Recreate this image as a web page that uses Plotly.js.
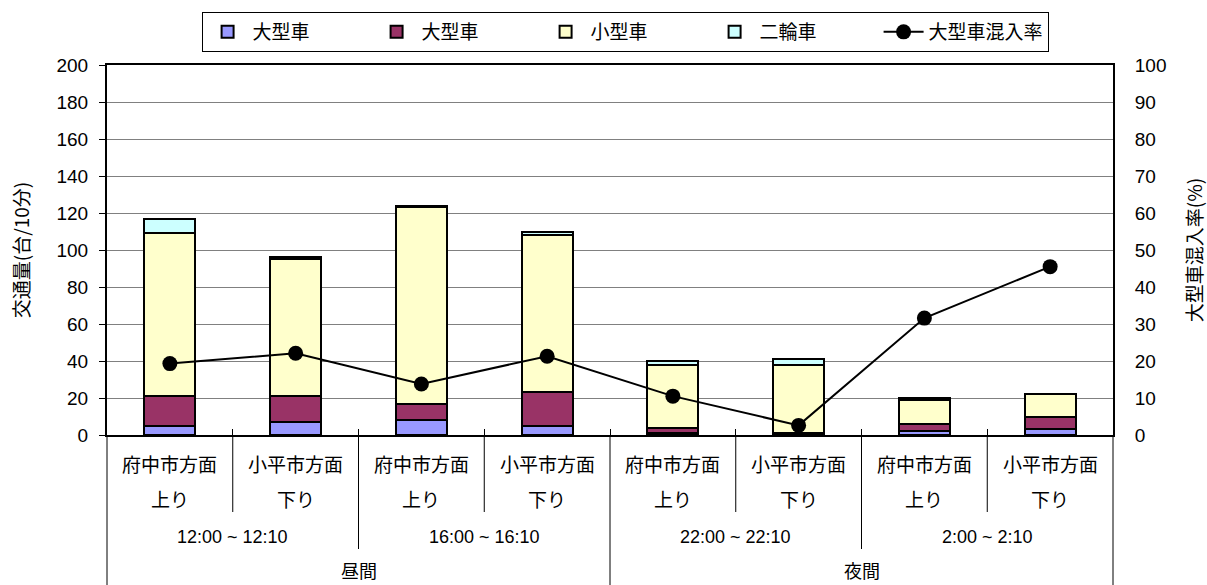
<!DOCTYPE html>
<html><head><meta charset="utf-8">
<script src="https://cdn.plot.ly/plotly-3.0.1.min.js"></script>
<style>html,body{margin:0;padding:0;background:#fff}#c{width:1207px;height:585px}</style>
</head><body><div id="c"></div>
<script>
// Data
const categories = ['府中市方面 上り 12:00','小平市方面 下り 12:00','府中市方面 上り 16:00','小平市方面 下り 16:00',
                    '府中市方面 上り 22:00','小平市方面 下り 22:00','府中市方面 上り 2:00','小平市方面 下り 2:00'];
const dirLine1 = ['府中市方面','小平市方面','府中市方面','小平市方面','府中市方面','小平市方面','府中市方面','小平市方面'];
const dirLine2 = ['上り','下り','上り','下り','上り','下り','上り','下り'];
const timeLabels = ['12:00 ~ 12:10','16:00 ~ 16:10','22:00 ~ 22:10','2:00 ~ 2:10'];
const periodLabels = ['昼間','夜間'];
const largeA = [5, 7, 8, 5, 1, 0, 2, 3];      // 大型車 (blue)
const largeB = [16, 14, 9, 18, 3, 1, 4, 7];   // 大型車 (maroon)
const small  = [88, 74, 106, 85, 34, 37, 13, 12]; // 小型車
const twoWheel = [8, 1, 1, 2, 2, 3, 1, 0];    // 二輪車
const mixRate = [19.3, 22.1, 13.8, 21.3, 10.5, 2.6, 31.6, 45.5]; // 大型車混入率(%)

const FONT = 'Liberation Sans, Arial, "Noto Sans CJK JP", sans-serif';
const JFONT = '"Noto Sans CJK JP", Liberation Sans, sans-serif';
const barLine = {color:'#000', width:2};

const traces = [
  {type:'bar', name:'大型車', x:categories, y:largeA, marker:{color:'#9999FF', line:barLine}},
  {type:'bar', name:'大型車', x:categories, y:largeB, marker:{color:'#993366', line:barLine}},
  {type:'bar', name:'小型車', x:categories, y:small, marker:{color:'#FFFFCC', line:barLine}},
  {type:'bar', name:'二輪車', x:categories, y:twoWheel, marker:{color:'#CCFFFF', line:barLine}},
  {type:'scatter', mode:'lines+markers', name:'大型車混入率', x:categories, y:mixRate, yaxis:'y2',
   line:{color:'#000', width:2}, marker:{color:'#000', size:15}}
];

const nCat = categories.length;
const H = 370; // plot height px
const pp = px => -(px - 435) / H; // page px -> paper y
const annotations = [];
const ann = (x, ypx, text, font) => ({xref:'x', yref:'paper', x:x, y:pp(ypx), yanchor:'middle', xanchor:'center',
                                      text:text, showarrow:false, font:font});
const jf = {size:19, family:JFONT, color:'#000'};
for (let i = 0; i < nCat; i++) {
  annotations.push(ann(i, 463, dirLine1[i], jf));
  annotations.push(ann(i, 498, dirLine2[i], jf));
}
timeLabels.forEach((t, k) => annotations.push(ann(2*k+0.5, 537, t, {size:18, family:FONT, color:'#000'})));
periodLabels.forEach((t, k) => annotations.push(ann(4*k+1.5, 570, t, {size:18, family:JFONT, color:'#000'})));

const shapes = [];
const bx = b => (b + 1) / nCat; // boundary after category b -> paper x
for (let b = 0; b < nCat - 1; b++) {
  let bottom = (b % 2 === 0) ? 512 : (b === 3 ? 586 : 549);
  shapes.push({type:'line', xref:'paper', yref:'paper', x0:bx(b), x1:bx(b), y0:0, y1:pp(bottom), line:{color:'#000', width:1}});
}
shapes.push({type:'line', xref:'paper', yref:'paper', x0:0, x1:0, y0:0, y1:pp(586), line:{color:'#000', width:1}});
shapes.push({type:'line', xref:'paper', yref:'paper', x0:1, x1:1, y0:0, y1:pp(586), line:{color:'#000', width:1}});

const layout = {
  width:1207, height:585,
  margin:{l:107, r:94, t:65, b:150},
  paper_bgcolor:'#fff', plot_bgcolor:'#fff',
  font:{family:FONT, size:19, color:'#000'},
  barmode:'stack', bargap:0.595,
  showlegend:true,
  legend:{orientation:'h', x:0.515, xanchor:'center', y:pp(12), yanchor:'top', traceorder:'normal',
          bordercolor:'#000', borderwidth:1, font:{size:19, family:JFONT}, entrywidth:114, itemwidth:40},
  xaxis:{type:'category', showticklabels:false, showline:true, linecolor:'#000', linewidth:2, mirror:true,
         ticks:'inside', tickson:'boundaries', ticklen:6, tickcolor:'#000', showgrid:false, fixedrange:true},
  yaxis:{range:[0,200], dtick:20, showline:true, linecolor:'#000', linewidth:2, ticks:'outside', ticklen:6, tickcolor:'#000',
         showgrid:true, gridcolor:'#808080', gridwidth:1, zeroline:false, tickfont:{size:19}, ticklabelstandoff:7,
         title:{text:'交通量(台/10分)', font:{size:19, family:JFONT}, standoff:22}},
  yaxis2:{range:[0,100], dtick:10, overlaying:'y', side:'right', showline:true, linecolor:'#000', linewidth:2,
          ticks:'outside', ticklen:0, showgrid:false, zeroline:false, tickfont:{size:19}, ticklabelstandoff:16,
          title:{text:'大型車混入率(%)', font:{size:19, family:JFONT}, standoff:24}},
  annotations:annotations, shapes:shapes
};
Plotly.newPlot('c', traces, layout, {displayModeBar:false, staticPlot:true});
</script></body></html>
